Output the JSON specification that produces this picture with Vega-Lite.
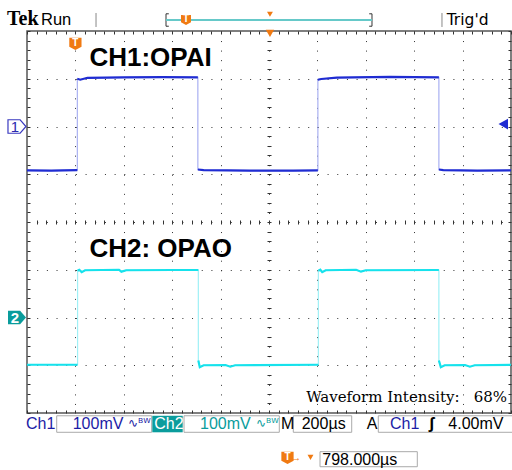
{
  "$schema": "https://vega.github.io/schema/vega-lite/v6.json",
  "width": 484,
  "height": 382,
  "autosize": {"type": "none"},
  "padding": {"left": 27, "top": 31, "right": 1, "bottom": 57},
  "background": "white",
  "config": {"font": "Liberation Sans", "view": {"stroke": "#555", "strokeWidth": 1.5}},
  "datasets": {
    "trace": [
      {"ch": "CH1", "seg": "a", "i": 0, "x": 0, "y": 1.08},
      {"ch": "CH1", "seg": "a", "i": 1, "x": 0.5, "y": 1.075},
      {"ch": "CH1", "seg": "a", "i": 2, "x": 1.04, "y": 1.085},
      {"ch": "CH1", "seg": "b", "i": 3, "x": 1.04, "y": 3.0},
      {"ch": "CH1", "seg": "b", "i": 4, "x": 1.1, "y": 2.98},
      {"ch": "CH1", "seg": "b", "i": 5, "x": 1.25, "y": 3.02},
      {"ch": "CH1", "seg": "b", "i": 6, "x": 2.0, "y": 3.03},
      {"ch": "CH1", "seg": "b", "i": 7, "x": 2.8, "y": 3.035},
      {"ch": "CH1", "seg": "b", "i": 8, "x": 3.53, "y": 3.03},
      {"ch": "CH1", "seg": "c", "i": 9, "x": 3.53, "y": 1.1},
      {"ch": "CH1", "seg": "c", "i": 10, "x": 3.65, "y": 1.085},
      {"ch": "CH1", "seg": "c", "i": 11, "x": 4.6, "y": 1.075},
      {"ch": "CH1", "seg": "c", "i": 12, "x": 5.5, "y": 1.075},
      {"ch": "CH1", "seg": "c", "i": 13, "x": 6.01, "y": 1.08},
      {"ch": "CH1", "seg": "d", "i": 14, "x": 6.01, "y": 2.98},
      {"ch": "CH1", "seg": "d", "i": 15, "x": 6.08, "y": 2.995},
      {"ch": "CH1", "seg": "d", "i": 16, "x": 6.4, "y": 3.025},
      {"ch": "CH1", "seg": "d", "i": 17, "x": 7.5, "y": 3.04},
      {"ch": "CH1", "seg": "d", "i": 18, "x": 8.51, "y": 3.03},
      {"ch": "CH1", "seg": "e", "i": 19, "x": 8.51, "y": 1.1},
      {"ch": "CH1", "seg": "e", "i": 20, "x": 8.6, "y": 1.085},
      {"ch": "CH1", "seg": "e", "i": 21, "x": 9.3, "y": 1.075},
      {"ch": "CH1", "seg": "e", "i": 22, "x": 10, "y": 1.08},
      {"ch": "CH2", "seg": "f", "i": 0, "x": 0, "y": -2.99},
      {"ch": "CH2", "seg": "f", "i": 1, "x": 1.045, "y": -2.99},
      {"ch": "CH2", "seg": "g", "i": 2, "x": 1.045, "y": -1.02},
      {"ch": "CH2", "seg": "g", "i": 3, "x": 1.08, "y": -1.0},
      {"ch": "CH2", "seg": "g", "i": 4, "x": 1.13, "y": -1.05},
      {"ch": "CH2", "seg": "g", "i": 5, "x": 1.2, "y": -1.01},
      {"ch": "CH2", "seg": "g", "i": 6, "x": 1.9, "y": -1.0},
      {"ch": "CH2", "seg": "g", "i": 7, "x": 1.95, "y": -1.04},
      {"ch": "CH2", "seg": "g", "i": 8, "x": 2.05, "y": -1.01},
      {"ch": "CH2", "seg": "g", "i": 9, "x": 3.0, "y": -1.005},
      {"ch": "CH2", "seg": "g", "i": 10, "x": 3.54, "y": -1.005},
      {"ch": "CH2", "seg": "h", "i": 11, "x": 3.54, "y": -2.9},
      {"ch": "CH2", "seg": "h", "i": 12, "x": 3.57, "y": -3.04},
      {"ch": "CH2", "seg": "h", "i": 13, "x": 3.65, "y": -3.0},
      {"ch": "CH2", "seg": "h", "i": 14, "x": 4.1, "y": -2.995},
      {"ch": "CH2", "seg": "h", "i": 15, "x": 4.2, "y": -3.03},
      {"ch": "CH2", "seg": "h", "i": 16, "x": 4.3, "y": -3.0},
      {"ch": "CH2", "seg": "h", "i": 17, "x": 6.02, "y": -2.99},
      {"ch": "CH2", "seg": "k", "i": 18, "x": 6.02, "y": -1.02},
      {"ch": "CH2", "seg": "k", "i": 19, "x": 6.06, "y": -1.0},
      {"ch": "CH2", "seg": "k", "i": 20, "x": 6.1, "y": -1.05},
      {"ch": "CH2", "seg": "k", "i": 21, "x": 6.17, "y": -1.01},
      {"ch": "CH2", "seg": "k", "i": 22, "x": 6.8, "y": -1.0},
      {"ch": "CH2", "seg": "k", "i": 23, "x": 6.9, "y": -1.04},
      {"ch": "CH2", "seg": "k", "i": 24, "x": 7.0, "y": -1.01},
      {"ch": "CH2", "seg": "k", "i": 25, "x": 8.51, "y": -1.005},
      {"ch": "CH2", "seg": "j", "i": 26, "x": 8.51, "y": -2.9},
      {"ch": "CH2", "seg": "j", "i": 27, "x": 8.55, "y": -3.04},
      {"ch": "CH2", "seg": "j", "i": 28, "x": 8.63, "y": -3.0},
      {"ch": "CH2", "seg": "j", "i": 29, "x": 9.05, "y": -2.995},
      {"ch": "CH2", "seg": "j", "i": 30, "x": 9.15, "y": -3.03},
      {"ch": "CH2", "seg": "j", "i": 31, "x": 9.25, "y": -3.0},
      {"ch": "CH2", "seg": "j", "i": 32, "x": 10, "y": -2.99}
    ],
    "txt": [
      {"g": "tek", "x": -0.413, "y": 4.126, "label": "Tek"},
      {"g": "hdr", "x": 0.289, "y": 4.126, "label": "Run"},
      {"g": "hdr2", "x": 8.671, "y": 4.126, "label": "Trig'd"},
      {"g": "title", "x": 1.29, "y": 3.267, "label": "CH1:OPAI"},
      {"g": "title", "x": 1.29, "y": -0.733, "label": "CH2: OPAO"},
      {"g": "wfi", "x": 9.92, "y": -3.763, "label": "Waveform Intensity:\u00a0\u00a0 68%"},
      {"g": "blue", "x": -0.021, "y": -4.335, "label": "Ch1"},
      {"g": "blue", "x": 0.944, "y": -4.335, "label": "100mV"},
      {"g": "blue", "x": 7.5, "y": -4.335, "label": "Ch1"},
      {"g": "teal", "x": 3.574, "y": -4.335, "label": "100mV"},
      {"g": "white", "x": 2.63, "y": -4.335, "label": "Ch2"},
      {"g": "black", "x": 5.248, "y": -4.335, "label": "M"},
      {"g": "black", "x": 5.676, "y": -4.335, "label": "200µs"},
      {"g": "black", "x": 7.019, "y": -4.335, "label": "A"},
      {"g": "black", "x": 8.705, "y": -4.335, "label": "4.00mV"},
      {"g": "slope", "x": 8.3, "y": -4.335, "label": "ʃ"},
      {"g": "bwblue", "x": 2.087, "y": -4.3, "label": "∿ᴮᵂ"},
      {"g": "bwteal", "x": 4.731, "y": -4.3, "label": "∿ᴮᵂ"},
      {"g": "bottom", "x": 6.101, "y": -5.089, "label": "798.000µs"}
    ],
    "boxes": [
      {"g": "box", "x": 0.614, "x2": 2.576, "y": -4.058, "y2": -4.404},
      {"g": "box", "x": 3.244, "x2": 5.213, "y": -4.058, "y2": -4.404},
      {"g": "box", "x": 5.502, "x2": 6.709, "y": -4.058, "y2": -4.404},
      {"g": "box", "x": 7.258, "x2": 10.04, "y": -4.058, "y2": -4.404},
      {"g": "box", "x": 6.054, "x2": 8.064, "y": -4.81, "y2": -5.125},
      {"g": "sel", "x": 2.589, "x2": 3.217, "y": -4.058, "y2": -4.404}
    ],
    "rules": [
      {"g": "sep", "x": 1.426, "x2": 1.426, "y": 4.084, "y2": 4.377},
      {"g": "sep", "x": 8.574, "x2": 8.574, "y": 4.084, "y2": 4.377},
      {"g": "brk", "x": 2.872, "x2": 2.872, "y": 4.1, "y2": 4.36},
      {"g": "brk", "x": 2.872, "x2": 2.93, "y": 4.36, "y2": 4.36},
      {"g": "brk", "x": 2.872, "x2": 2.93, "y": 4.1, "y2": 4.1},
      {"g": "brk", "x": 7.128, "x2": 7.128, "y": 4.1, "y2": 4.36},
      {"g": "brk", "x": 7.07, "x2": 7.128, "y": 4.36, "y2": 4.36},
      {"g": "brk", "x": 7.07, "x2": 7.128, "y": 4.1, "y2": 4.1},
      {"g": "cyan", "x": 2.872, "x2": 7.128, "y": 4.23, "y2": 4.23}
    ],
    "mk": [
      {"g": "T", "x": 1.0, "y": 3.728, "label": "T"},
      {"g": "Ts", "x": 3.285, "y": 4.23, "label": "T"},
      {"g": "T", "x": 5.382, "y": -4.942, "label": "T"},
      {"g": "triBig", "x": 5.02, "y": 3.95, "label": ""},
      {"g": "triSmall", "x": 5.02, "y": 4.35, "label": ""},
      {"g": "triSmall", "x": 5.857, "y": -4.93, "label": ""},
      {"g": "arrow", "x": 5.558, "y": -4.942, "label": "→"},
      {"g": "m1", "x": -0.207, "y": 2.0, "label": "1"},
      {"g": "m2", "x": -0.207, "y": -2.0, "label": "2"},
      {"g": "lvl", "x": 9.84, "y": 2.05, "label": ""}
    ]
  },
  "encoding": {
    "x": {"field": "x", "type": "quantitative", "scale": {"domain": [0, 10], "nice": false, "zero": false}, "axis": null},
    "y": {"field": "y", "type": "quantitative", "scale": {"domain": [-4, 4], "nice": false, "zero": false}, "axis": null}
  },
  "layer": [
    {
      "data": {"name": "trace"},
      "mark": {"type": "line", "strokeWidth": 1.2, "interpolate": "linear"},
      "encoding": {
        "x": {"field": "x", "type": "quantitative", "scale": {"domain": [0, 10], "nice": false, "zero": false},
          "axis": {"orient": "bottom", "values": [1, 2, 3, 4, 5, 6, 7, 8, 9], "grid": true, "gridDash": [1, 8.55], "gridColor": "#333", "gridOpacity": 1, "gridWidth": 1, "ticks": false, "labels": false, "domain": false, "title": null, "zindex": 0}},
        "y": {"field": "y", "type": "quantitative", "scale": {"domain": [-4, 4], "nice": false, "zero": false},
          "axis": {"orient": "left", "values": [-3, -2, -1, 0, 1, 2, 3], "grid": true, "gridDash": [1, 8.68], "gridColor": "#333", "gridOpacity": 1, "gridWidth": 1, "ticks": false, "labels": false, "domain": false, "title": null, "zindex": 0}},
        "detail": {"field": "ch"},
        "order": {"field": "i", "type": "quantitative"},
        "color": {"field": "ch", "type": "nominal", "scale": {"domain": ["CH1", "CH2"], "range": ["#a9b0f2", "#9ff0f6"]}, "legend": null}
      }
    },
    {
      "data": {"name": "trace"},
      "mark": {"type": "line", "strokeWidth": 2.2},
      "encoding": {
        "x": {"field": "x", "type": "quantitative", "scale": {"domain": [0, 10], "nice": false, "zero": false},
          "axis": {"orient": "bottom", "offset": -3, "tickSize": 3, "tickColor": "#333", "tickWidth": 1, "values": [0,0.2,0.4,0.6,0.8,1,1.2,1.4,1.6,1.8,2,2.2,2.4,2.6,2.8,3,3.2,3.4,3.6,3.8,4,4.2,4.4,4.6,4.8,5,5.2,5.4,5.6,5.8,6,6.2,6.4,6.6,6.8,7,7.2,7.4,7.6,7.8,8,8.2,8.4,8.6,8.8,9,9.2,9.4,9.6,9.8,10], "grid": false, "labels": false, "domain": false, "title": null, "zindex": 0}},
        "y": {"field": "y", "type": "quantitative", "scale": {"domain": [-4, 4], "nice": false, "zero": false},
          "axis": {"orient": "left", "offset": -3, "tickSize": 3, "tickColor": "#333", "tickWidth": 1, "values": [-4,-3.8,-3.6,-3.4,-3.2,-3,-2.8,-2.6,-2.4,-2.2,-2,-1.8,-1.6,-1.4,-1.2,-1,-0.8,-0.6,-0.4,-0.2,0,0.2,0.4,0.6,0.8,1,1.2,1.4,1.6,1.8,2,2.2,2.4,2.6,2.8,3,3.2,3.4,3.6,3.8,4], "grid": false, "labels": false, "domain": false, "title": null, "zindex": 0}},
        "detail": {"field": "seg"},
        "order": {"field": "i", "type": "quantitative"},
        "color": {"field": "ch", "type": "nominal", "scale": {"domain": ["CH1", "CH2"], "range": ["#1f2cd2", "#16e2ec"]}, "legend": null}
      }
    },
    {
      "data": {"name": "rules"},
      "transform": [{"filter": "datum.g === 'sep'"}],
      "mark": {"type": "rule", "color": "#888", "strokeWidth": 1},
      "encoding": {
        "x": {"field": "x", "type": "quantitative", "scale": {"domain": [0, 10], "nice": false, "zero": false},
          "axis": {"orient": "top", "offset": -3, "tickSize": 3, "tickColor": "#333", "tickWidth": 1, "values": [0,0.2,0.4,0.6,0.8,1,1.2,1.4,1.6,1.8,2,2.2,2.4,2.6,2.8,3,3.2,3.4,3.6,3.8,4,4.2,4.4,4.6,4.8,5,5.2,5.4,5.6,5.8,6,6.2,6.4,6.6,6.8,7,7.2,7.4,7.6,7.8,8,8.2,8.4,8.6,8.8,9,9.2,9.4,9.6,9.8,10], "grid": false, "labels": false, "domain": false, "title": null, "zindex": 0}},
        "y": {"field": "y", "type": "quantitative", "scale": {"domain": [-4, 4], "nice": false, "zero": false},
          "axis": {"orient": "right", "offset": -3, "tickSize": 3, "tickColor": "#333", "tickWidth": 1, "values": [-4,-3.8,-3.6,-3.4,-3.2,-3,-2.8,-2.6,-2.4,-2.2,-2,-1.8,-1.6,-1.4,-1.2,-1,-0.8,-0.6,-0.4,-0.2,0,0.2,0.4,0.6,0.8,1,1.2,1.4,1.6,1.8,2,2.2,2.4,2.6,2.8,3,3.2,3.4,3.6,3.8,4], "grid": false, "labels": false, "domain": false, "title": null, "zindex": 0}},
        "x2": {"field": "x2"},
        "y2": {"field": "y2"}
      }
    },
    {
      "data": {"name": "rules"},
      "transform": [{"filter": "datum.g === 'brk'"}],
      "mark": {"type": "rule", "color": "#333", "strokeWidth": 1},
      "encoding": {
        "x": {"field": "x", "type": "quantitative", "scale": {"domain": [0, 10], "nice": false, "zero": false},
          "axis": {"orient": "bottom", "offset": -193, "tickSize": 4, "tickColor": "#333", "tickWidth": 1, "values": [0.2,0.4,0.6,0.8,1,1.2,1.4,1.6,1.8,2,2.2,2.4,2.6,2.8,3,3.2,3.4,3.6,3.8,4,4.2,4.4,4.6,4.8,5,5.2,5.4,5.6,5.8,6,6.2,6.4,6.6,6.8,7,7.2,7.4,7.6,7.8,8,8.2,8.4,8.6,8.8,9,9.2,9.4,9.6,9.8], "grid": false, "labels": false, "domain": false, "title": null, "zindex": 0}},
        "y": {"field": "y", "type": "quantitative", "scale": {"domain": [-4, 4], "nice": false, "zero": false},
          "axis": {"orient": "left", "offset": -244, "tickSize": 4, "tickColor": "#333", "tickWidth": 1, "values": [-3.8,-3.6,-3.4,-3.2,-3,-2.8,-2.6,-2.4,-2.2,-2,-1.8,-1.6,-1.4,-1.2,-1,-0.8,-0.6,-0.4,-0.2,0,0.2,0.4,0.6,0.8,1,1.2,1.4,1.6,1.8,2,2.2,2.4,2.6,2.8,3,3.2,3.4,3.6,3.8], "grid": false, "labels": false, "domain": false, "title": null, "zindex": 0}},
        "x2": {"field": "x2"},
        "y2": {"field": "y2"}
      }
    },
    {
      "data": {"name": "rules"},
      "transform": [{"filter": "datum.g === 'cyan'"}],
      "mark": {"type": "rule", "color": "#66c9c9", "strokeWidth": 2},
      "encoding": {"x2": {"field": "x2"}, "y2": {"field": "y2"}}
    },
    {
      "data": {"name": "boxes"},
      "transform": [{"filter": "datum.g === 'box'"}],
      "mark": {"type": "rect", "fill": "white", "stroke": "#aaa", "strokeWidth": 1},
      "encoding": {"x2": {"field": "x2"}, "y2": {"field": "y2"}}
    },
    {
      "data": {"name": "boxes"},
      "transform": [{"filter": "datum.g === 'sel'"}],
      "mark": {"type": "rect", "fill": "#0a9c9c"},
      "encoding": {"x2": {"field": "x2"}, "y2": {"field": "y2"}}
    },
    {
      "data": {"name": "txt"},
      "transform": [{"filter": "datum.g === 'tek'"}],
      "mark": {"type": "text", "font": "Liberation Serif", "fontWeight": "bold", "fontSize": 20, "align": "left", "baseline": "alphabetic", "color": "black"},
      "encoding": {"text": {"field": "label"}}
    },
    {
      "data": {"name": "txt"},
      "transform": [{"filter": "datum.g === 'hdr'"}],
      "mark": {"type": "text", "font": "Liberation Sans", "fontSize": 16.5, "align": "left", "baseline": "alphabetic", "color": "black"},
      "encoding": {"text": {"field": "label"}}
    },
    {
      "data": {"name": "txt"},
      "transform": [{"filter": "datum.g === 'hdr2'"}],
      "mark": {"type": "text", "font": "DejaVu Sans", "fontSize": 15.5, "align": "left", "baseline": "alphabetic", "color": "black"},
      "encoding": {"text": {"field": "label"}}
    },
    {
      "data": {"name": "txt"},
      "transform": [{"filter": "datum.g === 'title'"}],
      "mark": {"type": "text", "font": "Liberation Sans", "fontWeight": "bold", "fontSize": 26, "align": "left", "baseline": "alphabetic", "color": "black"},
      "encoding": {"text": {"field": "label"}}
    },
    {
      "data": {"name": "txt"},
      "transform": [{"filter": "datum.g === 'wfi'"}],
      "mark": {"type": "text", "font": "DejaVu Serif", "fontSize": 15, "align": "right", "baseline": "alphabetic", "color": "black"},
      "encoding": {"text": {"field": "label"}}
    },
    {
      "data": {"name": "txt"},
      "transform": [{"filter": "datum.g === 'blue'"}],
      "mark": {"type": "text", "fontSize": 16, "align": "left", "baseline": "alphabetic", "color": "#1c1ca6"},
      "encoding": {"text": {"field": "label"}}
    },
    {
      "data": {"name": "txt"},
      "transform": [{"filter": "datum.g === 'teal'"}],
      "mark": {"type": "text", "fontSize": 16, "align": "left", "baseline": "alphabetic", "color": "#0a9c9c"},
      "encoding": {"text": {"field": "label"}}
    },
    {
      "data": {"name": "txt"},
      "transform": [{"filter": "datum.g === 'white'"}],
      "mark": {"type": "text", "fontSize": 16, "align": "left", "baseline": "alphabetic", "color": "white"},
      "encoding": {"text": {"field": "label"}}
    },
    {
      "data": {"name": "txt"},
      "transform": [{"filter": "datum.g === 'black' || datum.g === 'bottom'"}],
      "mark": {"type": "text", "fontSize": 16, "align": "left", "baseline": "alphabetic", "color": "black"},
      "encoding": {"text": {"field": "label"}}
    },
    {
      "data": {"name": "txt"},
      "transform": [{"filter": "datum.g === 'slope'"}],
      "mark": {"type": "text", "fontSize": 17, "fontWeight": "bold", "align": "left", "baseline": "alphabetic", "color": "black"},
      "encoding": {"text": {"field": "label"}}
    },
    {
      "data": {"name": "txt"},
      "transform": [{"filter": "datum.g === 'bwblue'"}],
      "mark": {"type": "text", "font": "DejaVu Sans", "fontSize": 12, "align": "left", "baseline": "alphabetic", "color": "#1c1ca6"},
      "encoding": {"text": {"field": "label"}}
    },
    {
      "data": {"name": "txt"},
      "transform": [{"filter": "datum.g === 'bwteal'"}],
      "mark": {"type": "text", "font": "DejaVu Sans", "fontSize": 12, "align": "left", "baseline": "alphabetic", "color": "#0a9c9c"},
      "encoding": {"text": {"field": "label"}}
    },
    {
      "data": {"name": "mk"},
      "transform": [{"filter": "datum.g === 'T'"}],
      "mark": {"type": "point", "shape": "M-1,-1 L1,-1 L1,0.45 L0,1 L-1,0.45 Z", "filled": true, "color": "#f07a12", "opacity": 1, "size": 150}
    },
    {
      "data": {"name": "mk"},
      "transform": [{"filter": "datum.g === 'Ts'"}],
      "mark": {"type": "point", "shape": "M-1,-1 L1,-1 L1,0.45 L0,1 L-1,0.45 Z", "filled": true, "color": "#f07a12", "opacity": 1, "size": 100}
    },
    {
      "data": {"name": "mk"},
      "transform": [{"filter": "datum.g === 'T' || datum.g === 'Ts'"}],
      "mark": {"type": "text", "fontWeight": "bold", "fontSize": 10, "color": "white", "baseline": "middle", "dy": -1},
      "encoding": {"text": {"field": "label"}}
    },
    {
      "data": {"name": "mk"},
      "transform": [{"filter": "datum.g === 'triBig'"}],
      "mark": {"type": "point", "shape": "triangle-down", "filled": true, "color": "#f07a12", "opacity": 1, "size": 70}
    },
    {
      "data": {"name": "mk"},
      "transform": [{"filter": "datum.g === 'triSmall'"}],
      "mark": {"type": "point", "shape": "triangle-down", "filled": true, "color": "#f07a12", "opacity": 1, "size": 35}
    },
    {
      "data": {"name": "mk"},
      "transform": [{"filter": "datum.g === 'arrow'"}],
      "mark": {"type": "text", "fontSize": 11, "fontWeight": "bold", "color": "#f07a12", "baseline": "middle"},
      "encoding": {"text": {"field": "label"}}
    },
    {
      "data": {"name": "mk"},
      "transform": [{"filter": "datum.g === 'm1'"}],
      "mark": {"type": "point", "shape": "M-1,-0.75 L0.35,-0.75 L1,0 L0.35,0.75 L-1,0.75 Z", "filled": true, "fill": "white", "stroke": "#3a3ac0", "strokeWidth": 1.2, "opacity": 1, "size": 324}
    },
    {
      "data": {"name": "mk"},
      "transform": [{"filter": "datum.g === 'm2'"}],
      "mark": {"type": "point", "shape": "M-1,-0.75 L0.35,-0.75 L1,0 L0.35,0.75 L-1,0.75 Z", "filled": true, "color": "#0a9c9c", "opacity": 1, "size": 324}
    },
    {
      "data": {"name": "mk"},
      "transform": [{"filter": "datum.g === 'm1'"}],
      "mark": {"type": "text", "fontSize": 15, "color": "#2a2ab0", "baseline": "middle", "dx": -2},
      "encoding": {"text": {"field": "label"}}
    },
    {
      "data": {"name": "mk"},
      "transform": [{"filter": "datum.g === 'm2'"}],
      "mark": {"type": "text", "fontSize": 15, "fontWeight": "bold", "color": "white", "baseline": "middle", "dx": -2},
      "encoding": {"text": {"field": "label"}}
    },
    {
      "data": {"name": "mk"},
      "transform": [{"filter": "datum.g === 'lvl'"}],
      "mark": {"type": "point", "shape": "triangle-left", "filled": true, "color": "#1f2cd2", "opacity": 1, "size": 120}
    }
  ],
  "resolve": {"axis": {"x": "independent", "y": "independent"}, "scale": {"color": "independent"}}
}
